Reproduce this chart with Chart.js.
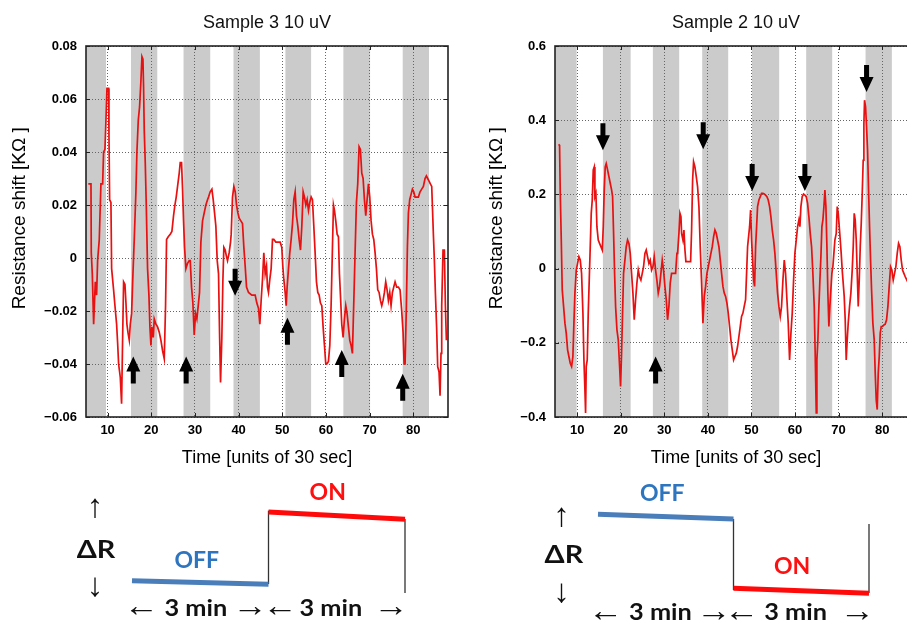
<!DOCTYPE html>
<html>
<head>
<meta charset="utf-8">
<script src="https://cdn.jsdelivr.net/npm/chart.js@4.4.1/dist/chart.umd.min.js"></script>
<style>
  html, body { margin: 0; padding: 0; background: #fff; overflow: hidden; }
  body { width: 907px; height: 620px; position: relative; }
  canvas { position: absolute; }
</style>
</head>
<body>
<canvas id="sample3" width="460" height="470" style="left:0;top:0"></canvas>
<canvas id="sample2" width="460" height="470" style="left:469px;top:0"></canvas>
<canvas id="step3" width="460" height="150" style="left:0;top:470px"></canvas>
<canvas id="step2" width="447" height="150" style="left:460px;top:470px"></canvas>
<script>
// time axis, units of 30 s
var timeTicks = [10, 20, 30, 40, 50, 60, 70, 80];

var sample3Ticks = [-0.06, -0.04, -0.02, 0, 0.02, 0.04, 0.06, 0.08];
var sample3Labels = ['\u22120.06', '\u22120.04', '\u22120.02', '0', '0.02', '0.04', '0.06', '0.08'];
var sample2Ticks = [-0.4, -0.2, 0, 0.2, 0.4, 0.6];
var sample2Labels = ['\u22120.4', '\u22120.2', '0', '0.2', '0.4', '0.6'];

// grey windows (start, end)
var sample3Windows = [[5.05, 9.63], [15.35, 21.37], [27.39, 33.5], [38.83, 44.87], [50.72, 56.6], [63.99, 70.1], [77.58, 83.6]];
var sample2Windows = [[4.9, 9.86], [15.9, 22.26], [27.37, 33.41], [38.69, 44.66], [50.1, 56.36], [62.56, 68.53], [76.19, 82.23]];

// resistance shift [kOhm], (time, value)
var sample3Shift = [
  [5.58,0.028],[6.19,0.028],[6.26,0.002],[6.49,-0.006],[6.80,-0.025],[7.18,-0.009],[7.48,-0.014],[7.71,-0.001],[8.09,0.007],[8.47,0.028],
  [8.86,0.028],[9.08,0.040],[9.39,0.041],[9.62,0.052],[9.85,0.064],[10.23,0.064],[10.31,0.046],[10.46,0.022],[10.76,0.021],[10.92,-0.004],
  [11.37,-0.012],[11.68,-0.018],[12.06,-0.025],[12.29,-0.032],[12.52,-0.040],[12.90,-0.045],[13.20,-0.055],[13.43,-0.031],[13.66,-0.009],[13.97,-0.010],
  [14.20,-0.017],[14.42,-0.025],[14.65,-0.028],[14.96,-0.031],[15.19,-0.025],[15.49,-0.021],[15.80,-0.006],[16.10,0.007],[16.48,0.025],[16.71,0.040],
  [17.02,0.052],[17.32,0.057],[17.63,0.067],[17.86,0.076],[18.09,0.075],[18.24,0.064],[18.39,0.048],[18.62,0.036],[18.85,0.020],[19.15,-0.004],
  [19.46,-0.014],[19.69,-0.026],[19.92,-0.033],[20.14,-0.026],[20.45,-0.030],[20.68,-0.023],[21.06,-0.025],[21.44,-0.026],[21.82,-0.028],[22.20,-0.031],
  [22.59,-0.035],[22.97,-0.038],[23.27,-0.018],[23.50,0.007],[23.88,0.008],[24.34,0.009],[24.72,0.010],[25.10,0.016],[25.41,0.020],[25.71,0.023],
  [26.02,0.027],[26.40,0.032],[26.63,0.036],[26.93,0.036],[27.16,0.026],[27.39,0.014],[27.62,0.004],[27.93,-0.004],[28.31,-0.002],[28.69,-0.001],
  [28.92,-0.001],[29.22,-0.011],[29.53,-0.017],[29.83,-0.029],[30.14,-0.021],[30.44,-0.023],[30.75,-0.018],[31.05,-0.013],[31.36,0.006],[31.74,0.014],
  [32.12,0.017],[32.50,0.020],[32.88,0.022],[33.11,0.023],[33.49,0.025],[33.88,0.026],[34.18,0.022],[34.49,0.017],[34.79,0.012],[35.10,-0.001],
  [35.40,-0.006],[35.63,-0.028],[35.86,-0.047],[36.16,-0.030],[36.39,-0.009],[36.62,0.004],[36.93,0.003],[37.16,0.001],[37.46,-0.001],[37.84,0.002],
  [38.15,0.006],[38.30,0.009],[38.60,0.023],[38.91,0.027],[39.22,0.025],[39.52,0.020],[39.83,0.017],[40.13,0.015],[40.51,0.014],[40.89,0.013],
  [41.20,0.004],[41.50,-0.003],[41.81,-0.011],[42.27,-0.013],[43.03,-0.014],[43.79,-0.014],[44.17,-0.017],[44.55,-0.019],[44.86,-0.025],[45.16,-0.016],
  [45.47,-0.008],[45.77,0.002],[46.08,-0.006],[46.39,-0.003],[46.61,-0.011],[46.84,-0.013],[47.15,-0.008],[47.45,-0.004],[47.76,0.007],[48.06,0.007],
  [48.52,0.006],[48.98,0.006],[49.51,0.006],[49.89,0.004],[50.12,-0.003],[50.35,-0.008],[50.66,-0.013],[50.89,-0.018],[51.11,-0.011],[51.42,-0.004],
  [51.72,0.002],[52.03,0.007],[52.34,0.013],[52.64,0.022],[52.95,0.025],[53.25,0.016],[53.56,0.012],[53.86,0.007],[54.17,0.003],[54.47,0.012],
  [54.78,0.025],[55.08,0.023],[55.39,0.020],[55.69,0.022],[56.00,0.018],[56.30,0.021],[56.61,0.023],[56.91,0.022],[57.22,0.012],[57.52,0.002],
  [57.83,-0.009],[58.13,-0.013],[58.44,-0.014],[58.74,-0.017],[59.05,-0.018],[59.35,-0.026],[59.66,-0.033],[59.96,-0.040],[60.19,-0.040],[60.57,-0.039],
  [60.88,-0.033],[61.18,-0.018],[61.49,0.004],[61.72,0.020],[61.95,0.018],[62.25,0.014],[62.56,0.009],[62.86,0.008],[63.09,-0.006],[63.32,-0.014],
  [63.62,-0.025],[63.93,-0.030],[64.23,-0.023],[64.54,-0.018],[64.84,-0.021],[65.15,-0.026],[65.45,-0.031],[65.76,-0.033],[66.06,-0.036],[66.37,-0.017],
  [66.67,0.002],[66.98,0.021],[67.28,0.028],[67.59,0.042],[67.89,0.041],[68.20,0.032],[68.51,0.030],[68.81,0.022],[69.12,0.016],[69.42,0.022],
  [69.73,0.028],[70.03,0.023],[70.34,0.014],[70.64,0.009],[70.95,0.007],[71.25,0.002],[71.56,-0.004],[71.86,-0.012],[72.17,-0.013],[72.47,-0.016],
  [72.78,-0.018],[73.08,-0.016],[73.39,-0.013],[73.69,-0.009],[74.00,-0.012],[74.30,-0.016],[74.61,-0.013],[74.91,-0.018],[75.22,-0.013],[75.52,-0.011],
  [75.83,-0.009],[76.21,-0.011],[76.59,-0.011],[76.97,-0.012],[77.35,-0.020],[77.66,-0.028],[77.89,-0.040],[78.12,-0.040],[78.42,-0.018],[78.65,0.004],
  [78.88,0.017],[79.18,0.022],[79.49,0.024],[79.80,0.026],[80.10,0.025],[80.41,0.023],[80.79,0.023],[81.17,0.023],[81.55,0.025],[81.93,0.026],
  [82.31,0.027],[82.69,0.030],[83.00,0.031],[83.30,0.030],[83.61,0.029],[83.91,0.028],[84.22,0.027],[84.37,0.020],[84.60,0.009],[84.83,-0.001],
  [85.06,-0.013],[85.36,-0.027],[85.59,-0.041],[85.90,-0.043],[86.13,-0.052],[86.35,-0.036],[86.51,-0.018],[86.81,0.003],[87.12,0.003],[87.35,-0.018],
  [87.58,-0.031]
];

var sample2Shift = [
  [5.72,0.335],[5.95,0.332],[6.11,0.203],[6.34,0.077],[6.56,-0.057],[6.87,-0.102],[7.18,-0.147],[7.48,-0.174],[7.79,-0.219],[8.09,-0.237],
  [8.40,-0.255],[8.71,-0.264],[9.01,-0.237],[9.24,-0.147],[9.47,-0.066],[9.78,-0.004],[10.08,0.014],[10.39,0.032],[10.70,0.023],[11.00,-0.013],
  [11.31,-0.120],[11.54,-0.246],[11.77,-0.327],[11.92,-0.389],[12.07,-0.264],[12.30,-0.246],[12.53,-0.120],[12.76,-0.031],[12.99,0.059],[13.22,0.149],
  [13.45,0.185],[13.68,0.266],[13.91,0.274],[14.06,0.194],[14.29,0.203],[14.52,0.113],[14.83,0.077],[15.13,0.068],[15.44,0.059],[15.75,0.050],
  [15.98,0.113],[16.20,0.212],[16.43,0.274],[16.66,0.283],[16.97,0.266],[17.28,0.248],[17.58,0.230],[17.89,0.212],[18.12,0.194],[18.35,0.095],
  [18.58,-0.013],[18.81,-0.102],[19.12,-0.165],[19.42,-0.192],[19.73,-0.264],[19.95,-0.318],[20.18,-0.228],[20.41,-0.120],[20.64,-0.013],[20.95,0.023],
  [21.25,0.059],[21.56,0.077],[21.87,0.068],[22.17,0.041],[22.48,-0.013],[22.79,-0.066],[23.09,-0.138],[23.40,-0.084],[23.70,-0.039],[24.01,-0.004],
  [24.31,-0.022],[24.62,-0.031],[24.93,-0.013],[25.23,0.005],[25.54,0.041],[25.84,0.050],[26.15,0.032],[26.46,0.014],[26.76,0.023],[27.07,-0.004],
  [27.38,0.005],[27.68,0.032],[27.99,-0.004],[28.29,-0.031],[28.60,-0.066],[28.91,-0.048],[29.21,-0.013],[29.52,0.023],[29.82,-0.004],[30.13,-0.048],
  [30.44,-0.084],[30.74,-0.138],[31.05,-0.102],[31.35,-0.039],[31.66,-0.013],[31.97,-0.013],[32.27,-0.013],[32.58,-0.013],[32.89,0.041],[33.04,0.041],
  [33.35,0.095],[33.58,0.149],[33.81,0.140],[33.96,0.095],[34.27,0.077],[34.50,0.104],[34.73,0.050],[34.95,0.019],[35.49,0.019],[36.03,0.019],
  [36.26,0.104],[36.49,0.239],[36.71,0.288],[37.02,0.274],[37.33,0.248],[37.63,0.221],[37.94,0.167],[38.24,0.059],[38.55,-0.039],[38.86,-0.147],
  [39.16,-0.075],[39.47,-0.048],[39.78,-0.013],[40.08,0.005],[40.39,0.023],[40.69,0.041],[41.00,0.059],[41.31,0.086],[41.61,0.104],[41.92,0.095],
  [42.22,0.077],[42.53,0.059],[42.84,0.023],[43.14,-0.013],[43.45,-0.048],[43.75,-0.066],[44.06,-0.075],[44.37,-0.093],[44.67,-0.120],[44.98,-0.156],
  [45.28,-0.192],[45.59,-0.219],[45.90,-0.246],[46.20,-0.237],[46.51,-0.228],[46.81,-0.210],[47.12,-0.183],[47.43,-0.156],[47.73,-0.129],[48.04,-0.120],
  [48.34,-0.102],[48.65,-0.084],[48.88,-0.013],[49.11,0.059],[49.34,0.086],[49.57,0.113],[49.80,0.158],[50.03,0.077],[50.26,0.023],[50.49,-0.031],
  [50.72,-0.048],[50.95,0.059],[51.18,0.113],[51.40,0.167],[51.71,0.185],[52.02,0.194],[52.32,0.203],[52.63,0.203],[52.93,0.201],[53.24,0.198],
  [53.55,0.194],[53.85,0.185],[54.16,0.167],[54.46,0.140],[54.77,0.104],[55.08,0.077],[55.38,0.041],[55.69,-0.013],[55.99,-0.066],[56.30,-0.102],
  [56.61,-0.129],[56.91,-0.102],[57.22,-0.031],[57.53,0.023],[57.83,-0.013],[58.14,-0.084],[58.44,-0.147],[58.75,-0.246],[59.06,-0.174],[59.36,-0.120],
  [59.67,-0.031],[59.97,0.041],[60.28,0.077],[60.59,0.113],[60.89,0.131],[61.12,0.113],[61.35,0.167],[61.65,0.194],[61.96,0.201],[62.27,0.198],
  [62.57,0.194],[62.88,0.176],[63.18,0.140],[63.49,0.095],[63.80,0.059],[64.10,-0.013],[64.41,-0.102],[64.64,-0.237],[64.87,-0.389],[65.02,-0.246],
  [65.25,-0.192],[65.48,-0.102],[65.71,-0.031],[65.94,0.032],[66.17,0.113],[66.40,0.131],[66.63,0.167],[66.86,0.212],[67.09,0.167],[67.32,0.059],
  [67.54,-0.066],[67.77,-0.156],[68.00,-0.102],[68.23,-0.057],[68.46,-0.013],[68.69,0.005],[68.92,0.041],[69.15,0.077],[69.46,0.095],[69.69,0.167],
  [69.92,0.149],[70.15,0.113],[70.38,0.077],[70.60,0.041],[70.83,-0.004],[71.06,-0.039],[71.29,-0.075],[71.52,-0.138],[71.75,-0.246],[71.98,-0.192],
  [72.21,-0.147],[72.52,-0.102],[72.82,-0.066],[73.13,-0.004],[73.36,0.059],[73.59,0.149],[73.82,0.131],[74.05,0.077],[74.28,-0.013],[74.51,-0.102],
  [74.74,-0.031],[74.97,0.059],[75.20,0.122],[75.43,0.203],[75.65,0.292],[75.81,0.391],[75.96,0.454],[76.19,0.436],[76.42,0.382],[76.65,0.319],
  [76.88,0.212],[77.11,0.113],[77.34,0.023],[77.57,-0.057],[77.87,-0.147],[78.18,-0.192],[78.41,-0.282],[78.64,-0.354],[78.87,-0.380],[79.10,-0.282],
  [79.33,-0.237],[79.56,-0.174],[79.79,-0.156],[80.09,-0.156],[80.40,-0.152],[80.70,-0.150],[81.01,-0.138],[81.32,-0.102],[81.62,-0.048],[81.93,0.005],
  [82.23,-0.004],[82.54,-0.031],[82.85,-0.013],[83.15,0.005],[83.46,0.041],[83.77,0.068],[84.07,0.059],[84.38,0.023],[84.68,-0.004],[84.99,-0.013],
  [85.30,-0.022],[85.68,-0.031],[86.2,-0.045],[86.8,-0.05],[87.5,-0.04]
];

// arrow marks: time, value at the tip, 1 = up / -1 = down
var sample3Marks = [[15.88, -0.0372, 1], [27.99, -0.0372, 1], [39.2, -0.0142, -1], [51.18, -0.0225, 1], [63.62, -0.0347, 1], [77.58, -0.0437, 1]];
var sample2Marks = [[15.9, 0.319, -1], [28.0, -0.237, 1], [38.92, 0.322, -1], [50.16, 0.209, -1], [62.26, 0.209, -1], [76.42, 0.476, -1]];

// step sketches below: phase 0..1 = first 3 min, 1..2 = next 3 min
var phaseA = [0, 1];
var phaseB = [1, 2];
var step3Off = [0.168, 0.126];
var step3On = [0.976, 0.891];
var step3Rise = [0.129, 0.992];
var step3End = [0.894, 0.024];
var step2Off = [0.949, 0.894];
var step2On = [0.079, 0.020];
var step2Drop = [0.894, 0.059];
var step2End = [0.835, 0.024];

var step3Notes = [['\u2191', -0.271, 1.02, 'varrow'], ['\u0394R', -0.264, 0.53, 'big'], ['\u2193', -0.271, 0.09, 'varrow'],
  ['OFF', 0.474, 0.41, 'off'], ['ON', 1.434, 1.2, 'on'],
  ['\u2190', 0.066, -0.14, 'harrow'], ['3 min', 0.468, -0.165, 'min'], ['\u2192', 0.864, -0.14, 'harrow'],
  ['\u2190', 1.084, -0.14, 'harrow'], ['3 min', 1.457, -0.165, 'min'], ['\u2192', 1.896, -0.14, 'harrow']];
var step2Notes = [['\u2191', -0.27, 0.92, 'varrow'], ['\u0394R', -0.252, 0.47, 'big'], ['\u2193', -0.27, 0.02, 'varrow'],
  ['OFF', 0.474, 1.196, 'off'], ['ON', 1.433, 0.333, 'on'],
  ['\u2190', 0.055, -0.2, 'harrow'], ['3 min', 0.461, -0.216, 'min'], ['\u2192', 0.854, -0.2, 'harrow'],
  ['\u2190', 1.058, -0.2, 'harrow'], ['3 min', 1.458, -0.216, 'min'], ['\u2192', 1.913, -0.2, 'harrow']];

var FONT = "'Liberation Sans', Arial, sans-serif";
var SKETCH_FONT = "Lato, 'Open Sans', sans-serif";

function panel(id, opt) {
  var windowsPlugin = {
    id: 'windows',
    beforeDraw: function (chart) {
      var a = chart.chartArea, x = chart.scales.x, ctx = chart.ctx;
      ctx.save();
      ctx.fillStyle = '#cbcbcb';
      opt.windows.forEach(function (w) {
        var x1 = Math.max(a.left, x.getPixelForValue(w[0]));
        var x2 = Math.min(a.right, x.getPixelForValue(w[1]));
        ctx.fillRect(x1, a.top, x2 - x1, a.bottom - a.top);
      });
      ctx.restore();
    }
  };
  var framePlugin = {
    id: 'frame',
    afterDatasetsDraw: function (chart) {
      var a = chart.chartArea, ctx = chart.ctx, sx = chart.scales.x, sy = chart.scales.y;
      ctx.save();
      ctx.fillStyle = '#000';
      opt.marks.forEach(function (m) {
        var px = sx.getPixelForValue(m[0]), py = sy.getPixelForValue(m[1]), s = m[2];
        ctx.beginPath();
        ctx.moveTo(px, py);
        ctx.lineTo(px + 7, py + 15 * s);
        ctx.lineTo(px + 2.5, py + 15 * s);
        ctx.lineTo(px + 2.5, py + 27 * s);
        ctx.lineTo(px - 2.5, py + 27 * s);
        ctx.lineTo(px - 2.5, py + 15 * s);
        ctx.lineTo(px - 7, py + 15 * s);
        ctx.closePath();
        ctx.fill();
      });
      ctx.strokeStyle = '#222';
      ctx.lineWidth = 1;
      ctx.beginPath();
      timeTicks.forEach(function (t) {
        var px = Math.round(sx.getPixelForValue(t)) + 0.5;
        ctx.moveTo(px, a.top); ctx.lineTo(px, a.top + 4);
        ctx.moveTo(px, a.bottom); ctx.lineTo(px, a.bottom - 4);
      });
      opt.yTicks.forEach(function (v) {
        var py = Math.round(sy.getPixelForValue(v)) + 0.5;
        ctx.moveTo(a.left, py); ctx.lineTo(a.left + 4, py);
        ctx.moveTo(a.right, py); ctx.lineTo(a.right - 4, py);
      });
      ctx.stroke();
      ctx.lineWidth = 1.6;
      ctx.strokeRect(a.left, a.top, a.right - a.left, a.bottom - a.top);
      ctx.restore();
    }
  };

  return new Chart(document.getElementById(id), {
    type: 'line',
    data: {
      datasets: [{
        data: opt.series.map(function (p) { return { x: p[0], y: p[1] }; }),
        borderColor: 'rgb(232,16,16)',
        borderWidth: 1.7,
        pointRadius: 0,
        tension: 0,
        fill: false
      }]
    },
    options: {
      responsive: false,
      animation: false,
      events: [],
      layout: { padding: { left: 0, right: 12, top: 0, bottom: 0 } },
      plugins: {
        legend: { display: false },
        tooltip: { enabled: false },
        title: {
          display: true,
          fullSize: false,
          text: opt.title,
          color: '#111',
          font: { family: FONT, size: 18, weight: 'normal' },
          padding: { top: 12.5, bottom: 11.9 }
        }
      },
      scales: {
        x: {
          type: 'linear',
          min: opt.xMin,
          max: opt.xMax,
          afterBuildTicks: function (s) { s.ticks = timeTicks.map(function (v) { return { value: v }; }); },
          afterFit: function (s) { s.height = 53; },
          ticks: { color: '#000', autoSkip: false, maxRotation: 0, padding: 6,
                   font: { family: FONT, size: 13, weight: 'bold' } },
          grid: { color: '#666', lineWidth: 1, drawTicks: false },
          border: { display: false, dash: [1, 2] },
          title: { display: true, text: 'Time [units of 30 sec]', color: '#000',
                   font: { family: FONT, size: 18 }, padding: { top: 0, bottom: 1.5 } }
        },
        y: {
          type: 'linear',
          min: opt.yTicks[0],
          max: opt.yTicks[opt.yTicks.length - 1],
          afterBuildTicks: function (s) { s.ticks = opt.yTicks.map(function (v) { return { value: v }; }); },
          afterFit: function (s) { s.width = 86; },
          ticks: { color: '#000', autoSkip: false, padding: 9,
                   font: { family: FONT, size: 13, weight: 'bold' },
                   callback: function (v, i) { return opt.yLabels[i]; } },
          grid: { color: '#666', lineWidth: 1, drawTicks: false },
          border: { display: false, dash: [1, 2] },
          title: { display: true, text: '     Resistance shift [K\u03a9 ]', color: '#000',
                   font: { family: FONT, size: 19 }, padding: { top: opt.titleGap, bottom: 0 } }
        }
      }
    },
    plugins: [windowsPlugin, framePlugin]
  });
}

panel('sample3', {
  title: 'Sample 3 10 uV', series: sample3Shift, windows: sample3Windows, marks: sample3Marks,
  yTicks: sample3Ticks, yLabels: sample3Labels, xMin: 5.05, xMax: 87.95, titleGap: 8.5
});
panel('sample2', {
  title: 'Sample 2 10 uV', series: sample2Shift, windows: sample2Windows, marks: sample2Marks,
  yTicks: sample2Ticks, yLabels: sample2Labels, xMin: 4.9, xMax: 88, titleGap: 16
});

function sketch(id, opt) {
  function seg(xs, ys) { return xs.map(function (x, i) { return { x: x, y: ys[i] }; }); }
  var styles = {
    big: { font: 'bold 25px ' + SKETCH_FONT, color: '#111', stretch: 1.15 },
    min: { font: 'bold 22px ' + SKETCH_FONT, color: '#111', stretch: 1.15 },
    off: { font: 'bold 23px ' + SKETCH_FONT, color: '#2e75c0', stretch: 1 },
    on: { font: 'bold 23px ' + SKETCH_FONT, color: '#ff1010', stretch: 1 },
    varrow: { font: '33px ' + FONT, color: '#111', stretch: 1 },
    harrow: { font: '32px ' + FONT, color: '#111', stretch: 1.1 }
  };
  var notesPlugin = {
    id: 'notes',
    afterDatasetsDraw: function (chart) {
      var ctx = chart.ctx, sx = chart.scales.x, sy = chart.scales.y;
      ctx.save();
      ctx.textAlign = 'center';
      ctx.textBaseline = 'middle';
      opt.notes.forEach(function (n) {
        var st = styles[n[3]];
        ctx.save();
        ctx.translate(sx.getPixelForValue(n[1]), sy.getPixelForValue(n[2]));
        ctx.scale(st.stretch, 1);
        ctx.font = st.font;
        ctx.fillStyle = st.color;
        ctx.fillText(n[0], 0, 0);
        ctx.restore();
      });
      ctx.restore();
    }
  };
  var thin = { borderColor: '#333', borderWidth: 1.3, clip: false, pointRadius: 0 };
  return new Chart(document.getElementById(id), {
    type: 'line',
    data: {
      datasets: [
        { data: seg(phaseA, opt.off), borderColor: '#4a7ebb', borderWidth: 5, clip: false, pointRadius: 0 },
        { data: seg(phaseB, opt.on), borderColor: '#ff0a0a', borderWidth: 5, clip: false, pointRadius: 0 },
        Object.assign({ data: seg([1, 1], opt.edge1) }, thin),
        Object.assign({ data: seg([2, 2], opt.edge2) }, thin)
      ]
    },
    options: {
      responsive: false,
      animation: false,
      events: [],
      layout: { padding: opt.pad },
      elements: { line: { borderCapStyle: 'butt', tension: 0 } },
      plugins: { legend: { display: false }, tooltip: { enabled: false } },
      scales: {
        x: { type: 'linear', display: false, min: 0, max: 2 },
        y: { type: 'linear', display: false, min: 0, max: 1 }
      }
    },
    plugins: [notesPlugin]
  });
}

sketch('step3', { off: step3Off, on: step3On, edge1: step3Rise, edge2: step3End, notes: step3Notes,
  pad: { left: 132, right: 55, top: 40, bottom: 25 } });
sketch('step2', { off: step2Off, on: step2On, edge1: step2Drop, edge2: step2End, notes: step2Notes,
  pad: { left: 138, right: 38, top: 40, bottom: 25 } });
</script>
</body>
</html>
